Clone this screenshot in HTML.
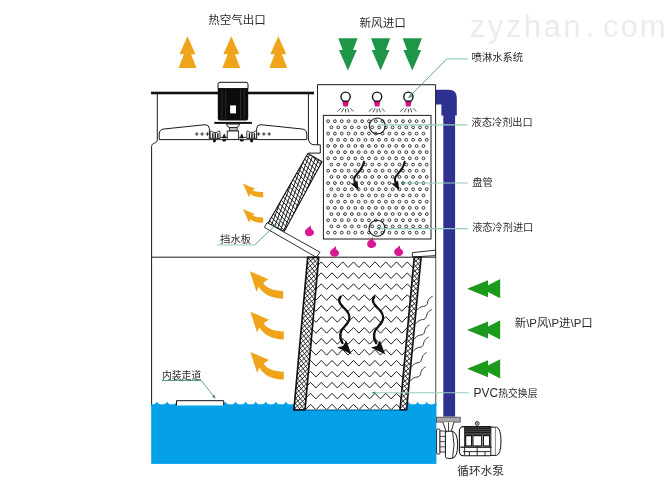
<!DOCTYPE html>
<html lang="zh"><head><meta charset="utf-8"><title>冷却塔示意图</title>
<style>
html,body{margin:0;padding:0;background:#fff;}
body{width:672px;height:487px;overflow:hidden;font-family:"Liberation Sans","Noto Sans CJK SC",sans-serif;}
svg{display:block;will-change:transform;}
</style></head><body>
<svg width="672" height="487" viewBox="0 0 672 487"><defs>
<clipPath id="pvcClip"><polygon points="318.7,257.4 414.2,257.4 400,409.6 305,409.6"/></clipPath>
</defs>
<rect x="0" y="0" width="672" height="487" fill="#ffffff"/>
<text x="469.8" y="37.2" font-family="'Liberation Sans','Noto Sans CJK SC',sans-serif" font-size="31" fill="#ececee" letter-spacing="2.5">zyzhan</text>
<text x="585.4" y="37.2" font-family="'Liberation Sans','Noto Sans CJK SC',sans-serif" font-size="31" fill="#ececee" >.</text>
<text x="603" y="37.2" font-family="'Liberation Sans','Noto Sans CJK SC',sans-serif" font-size="31" fill="#ececee" letter-spacing="2.0">com</text>
<text x="208.3" y="23.6" font-family="'Liberation Sans','Noto Sans CJK SC',sans-serif" font-size="11.5" fill="#2a2a2a" >热空气出口</text>
<text x="359.5" y="27.4" font-family="'Liberation Sans','Noto Sans CJK SC',sans-serif" font-size="11.6" fill="#2a2a2a" >新风进口</text>
<polygon points="187.5,36.2 195.5,54.3 191.1,54.3 196.5,68 178.5,68 183.9,54.3 179.5,54.3" fill="#f0a41c"/>
<polygon points="231.3,36.2 239.3,54.3 234.9,54.3 240.3,68 222.3,68 227.70000000000002,54.3 223.3,54.3" fill="#f0a41c"/>
<polygon points="278.3,36.2 286.3,54.3 281.90000000000003,54.3 287.3,68 269.3,68 274.7,54.3 270.3,54.3" fill="#f0a41c"/>
<polygon points="338.29999999999995,38.2 357.5,38.2 353.09999999999997,50 356.79999999999995,50 347.9,70.6 339.0,50 342.7,50" fill="#1e9648"/>
<polygon points="371.0,38.2 390.20000000000005,38.2 385.8,50 389.5,50 380.6,70.6 371.70000000000005,50 375.40000000000003,50" fill="#1e9648"/>
<polygon points="402.7,38.2 421.90000000000003,38.2 417.5,50 421.2,50 412.3,70.6 403.40000000000003,50 407.1,50" fill="#1e9648"/>
<rect x="151" y="91.7" width="163" height="2.6" fill="#111"/>
<path d="M157.3 94 V139.6 C157.3 144.4 151.6 141.8 151.6 146.6 V405" fill="none" stroke="#1a1a1a" stroke-width="1"/>
<path d="M308.4 94 V138 Q308.4 144.8 315 144.8 H320.3 V153.1 H308.4" fill="none" stroke="#1a1a1a" stroke-width="1"/>
<path d="M159.2 139.6 V134 Q159.4 129.4 164 129 L205 124.7 Q209 124.6 209.4 128.5 V139.6 Z" fill="#fff" stroke="#1a1a1a" stroke-width="1"/>
<path d="M306.8 139.6 V134 Q306.6 129.4 302 129 L261 124.7 Q257 124.6 256.6 128.5 V139.6 Z" fill="#fff" stroke="#1a1a1a" stroke-width="1"/>
<path d="M209.4 137.4 H256.6 M209.4 139.6 H256.6" stroke="#1a1a1a" stroke-width="0.9" fill="none"/>
<path d="M210.2 138.4 V132.2 Q210.2 130.9 211.5 130.9 Q212.2 132.6 215.1 132.6 Q218.0 132.6 218.7 130.9 Q220.0 130.9 220.0 132.2 V138.4 Z" fill="#fff" stroke="#1a1a1a" stroke-width="0.9"/>
<rect x="212.1" y="133.2" width="1.4" height="5" fill="#1a1a1a"/>
<rect x="214.6" y="133.2" width="1.4" height="5" fill="#1a1a1a"/>
<rect x="217.1" y="133.2" width="1.4" height="5" fill="#1a1a1a"/>
<path d="M246.8 138.4 V132.2 Q246.8 130.9 248.10000000000002 130.9 Q248.8 132.6 251.70000000000002 132.6 Q254.60000000000002 132.6 255.3 130.9 Q256.6 130.9 256.6 132.2 V138.4 Z" fill="#fff" stroke="#1a1a1a" stroke-width="0.9"/>
<rect x="248.7" y="133.2" width="1.4" height="5" fill="#1a1a1a"/>
<rect x="251.2" y="133.2" width="1.4" height="5" fill="#1a1a1a"/>
<rect x="253.7" y="133.2" width="1.4" height="5" fill="#1a1a1a"/>
<path d="M222.29999999999998 138.2 L223.29999999999998 135 L224.2 133.6 L225.1 135 L226.1 138.2 Z" fill="#111"/>
<ellipse cx="224.2" cy="140.4" rx="2" ry="1.1" fill="#111"/>
<path d="M239.9 138.2 L240.9 135 L241.8 133.6 L242.70000000000002 135 L243.70000000000002 138.2 Z" fill="#111"/>
<ellipse cx="241.8" cy="140.4" rx="2" ry="1.1" fill="#111"/>
<ellipse cx="214.4" cy="140.8" rx="1.5" ry="1.7" fill="#111"/>
<ellipse cx="251.6" cy="140.8" rx="1.5" ry="1.7" fill="#111"/>
<path d="M195.0 134 H198.60000000000002 M196.8 132.2 V135.8" stroke="#111" stroke-width="0.8"/>
<path d="M200.29999999999998 134 H203.9 M202.1 132.2 V135.8" stroke="#111" stroke-width="0.8"/>
<path d="M205.6 134 H209.20000000000002 M207.4 132.2 V135.8" stroke="#111" stroke-width="0.8"/>
<path d="M256.8 134 H260.40000000000003 M258.6 132.2 V135.8" stroke="#111" stroke-width="0.8"/>
<path d="M262.09999999999997 134 H265.7 M263.9 132.2 V135.8" stroke="#111" stroke-width="0.8"/>
<path d="M267.4 134 H271.0 M269.2 132.2 V135.8" stroke="#111" stroke-width="0.8"/>
<path d="M218 88.6 V84.3 Q218 82.3 220 82.3 H246 Q248 82.3 248 84.3 V88.6 Z" fill="#fff" stroke="#111" stroke-width="1"/>
<path d="M217.8 88.4 H248.2 V118.4 Q248.2 120.4 246.2 120.4 H219.8 Q217.8 120.4 217.8 118.4 Z" fill="#0c0c0c"/>
<rect x="221.60" y="89.4" width="0.8" height="30" fill="#333"/>
<rect x="225.40" y="89.4" width="0.8" height="30" fill="#333"/>
<rect x="240.00" y="89.4" width="0.8" height="30" fill="#333"/>
<rect x="243.80" y="89.4" width="0.8" height="30" fill="#333"/>
<rect x="230.1" y="105.4" width="5.9" height="8" fill="#fff"/>
<rect x="214.3" y="121.9" width="37.6" height="2" fill="#111"/>
<path d="M226.4 124.1 Q227 127.6 230.2 127.6 H235.8 Q239 127.6 239.6 124.1 Z" fill="#fff" stroke="#1a1a1a" stroke-width="0.9"/>
<rect x="229.6" y="127.6" width="7.6" height="3.4" fill="#bbb" stroke="#1a1a1a" stroke-width="0.8"/>
<rect x="227.2" y="131" width="11.4" height="8.4" fill="#fff" stroke="#1a1a1a" stroke-width="0.9"/>
<path d="M317.5 144.8 V84.7 H435.6 V257" fill="none" stroke="#1a1a1a" stroke-width="1"/>
<path d="M435.7 257 V406" fill="none" stroke="#6a6a6a" stroke-width="1.2"/>
<rect x="323.4" y="115.4" width="107.6" height="123.6" fill="#fff" stroke="#1a1a1a" stroke-width="1"/>
<g fill="#fff" stroke="#1a1a1a" stroke-width="0.85"><circle cx="328.10" cy="121.20" r="1.42"/><circle cx="334.91" cy="121.20" r="1.42"/><circle cx="341.72" cy="121.20" r="1.42"/><circle cx="348.53" cy="121.20" r="1.42"/><circle cx="355.34" cy="121.20" r="1.42"/><circle cx="362.15" cy="121.20" r="1.42"/><circle cx="368.96" cy="121.20" r="1.42"/><circle cx="375.77" cy="121.20" r="1.42"/><circle cx="382.58" cy="121.20" r="1.42"/><circle cx="389.39" cy="121.20" r="1.42"/><circle cx="396.20" cy="121.20" r="1.42"/><circle cx="403.01" cy="121.20" r="1.42"/><circle cx="409.82" cy="121.20" r="1.42"/><circle cx="416.63" cy="121.20" r="1.42"/><circle cx="423.44" cy="121.20" r="1.42"/><circle cx="331.40" cy="127.39" r="1.42"/><circle cx="338.21" cy="127.39" r="1.42"/><circle cx="345.02" cy="127.39" r="1.42"/><circle cx="351.83" cy="127.39" r="1.42"/><circle cx="358.64" cy="127.39" r="1.42"/><circle cx="365.45" cy="127.39" r="1.42"/><circle cx="372.26" cy="127.39" r="1.42"/><circle cx="379.07" cy="127.39" r="1.42"/><circle cx="385.88" cy="127.39" r="1.42"/><circle cx="392.69" cy="127.39" r="1.42"/><circle cx="399.50" cy="127.39" r="1.42"/><circle cx="406.31" cy="127.39" r="1.42"/><circle cx="413.12" cy="127.39" r="1.42"/><circle cx="419.93" cy="127.39" r="1.42"/><circle cx="426.74" cy="127.39" r="1.42"/><circle cx="328.10" cy="133.58" r="1.42"/><circle cx="334.91" cy="133.58" r="1.42"/><circle cx="341.72" cy="133.58" r="1.42"/><circle cx="348.53" cy="133.58" r="1.42"/><circle cx="355.34" cy="133.58" r="1.42"/><circle cx="362.15" cy="133.58" r="1.42"/><circle cx="368.96" cy="133.58" r="1.42"/><circle cx="375.77" cy="133.58" r="1.42"/><circle cx="382.58" cy="133.58" r="1.42"/><circle cx="389.39" cy="133.58" r="1.42"/><circle cx="396.20" cy="133.58" r="1.42"/><circle cx="403.01" cy="133.58" r="1.42"/><circle cx="409.82" cy="133.58" r="1.42"/><circle cx="416.63" cy="133.58" r="1.42"/><circle cx="423.44" cy="133.58" r="1.42"/><circle cx="331.40" cy="139.77" r="1.42"/><circle cx="338.21" cy="139.77" r="1.42"/><circle cx="345.02" cy="139.77" r="1.42"/><circle cx="351.83" cy="139.77" r="1.42"/><circle cx="358.64" cy="139.77" r="1.42"/><circle cx="365.45" cy="139.77" r="1.42"/><circle cx="372.26" cy="139.77" r="1.42"/><circle cx="379.07" cy="139.77" r="1.42"/><circle cx="385.88" cy="139.77" r="1.42"/><circle cx="392.69" cy="139.77" r="1.42"/><circle cx="399.50" cy="139.77" r="1.42"/><circle cx="406.31" cy="139.77" r="1.42"/><circle cx="413.12" cy="139.77" r="1.42"/><circle cx="419.93" cy="139.77" r="1.42"/><circle cx="426.74" cy="139.77" r="1.42"/><circle cx="328.10" cy="145.96" r="1.42"/><circle cx="334.91" cy="145.96" r="1.42"/><circle cx="341.72" cy="145.96" r="1.42"/><circle cx="348.53" cy="145.96" r="1.42"/><circle cx="355.34" cy="145.96" r="1.42"/><circle cx="362.15" cy="145.96" r="1.42"/><circle cx="368.96" cy="145.96" r="1.42"/><circle cx="375.77" cy="145.96" r="1.42"/><circle cx="382.58" cy="145.96" r="1.42"/><circle cx="389.39" cy="145.96" r="1.42"/><circle cx="396.20" cy="145.96" r="1.42"/><circle cx="403.01" cy="145.96" r="1.42"/><circle cx="409.82" cy="145.96" r="1.42"/><circle cx="416.63" cy="145.96" r="1.42"/><circle cx="423.44" cy="145.96" r="1.42"/><circle cx="331.40" cy="152.15" r="1.42"/><circle cx="338.21" cy="152.15" r="1.42"/><circle cx="345.02" cy="152.15" r="1.42"/><circle cx="351.83" cy="152.15" r="1.42"/><circle cx="358.64" cy="152.15" r="1.42"/><circle cx="365.45" cy="152.15" r="1.42"/><circle cx="372.26" cy="152.15" r="1.42"/><circle cx="379.07" cy="152.15" r="1.42"/><circle cx="385.88" cy="152.15" r="1.42"/><circle cx="392.69" cy="152.15" r="1.42"/><circle cx="399.50" cy="152.15" r="1.42"/><circle cx="406.31" cy="152.15" r="1.42"/><circle cx="413.12" cy="152.15" r="1.42"/><circle cx="419.93" cy="152.15" r="1.42"/><circle cx="426.74" cy="152.15" r="1.42"/><circle cx="328.10" cy="158.34" r="1.42"/><circle cx="334.91" cy="158.34" r="1.42"/><circle cx="341.72" cy="158.34" r="1.42"/><circle cx="348.53" cy="158.34" r="1.42"/><circle cx="355.34" cy="158.34" r="1.42"/><circle cx="362.15" cy="158.34" r="1.42"/><circle cx="368.96" cy="158.34" r="1.42"/><circle cx="375.77" cy="158.34" r="1.42"/><circle cx="382.58" cy="158.34" r="1.42"/><circle cx="389.39" cy="158.34" r="1.42"/><circle cx="396.20" cy="158.34" r="1.42"/><circle cx="403.01" cy="158.34" r="1.42"/><circle cx="409.82" cy="158.34" r="1.42"/><circle cx="416.63" cy="158.34" r="1.42"/><circle cx="423.44" cy="158.34" r="1.42"/><circle cx="331.40" cy="164.53" r="1.42"/><circle cx="338.21" cy="164.53" r="1.42"/><circle cx="345.02" cy="164.53" r="1.42"/><circle cx="351.83" cy="164.53" r="1.42"/><circle cx="358.64" cy="164.53" r="1.42"/><circle cx="365.45" cy="164.53" r="1.42"/><circle cx="372.26" cy="164.53" r="1.42"/><circle cx="379.07" cy="164.53" r="1.42"/><circle cx="385.88" cy="164.53" r="1.42"/><circle cx="392.69" cy="164.53" r="1.42"/><circle cx="399.50" cy="164.53" r="1.42"/><circle cx="406.31" cy="164.53" r="1.42"/><circle cx="413.12" cy="164.53" r="1.42"/><circle cx="419.93" cy="164.53" r="1.42"/><circle cx="426.74" cy="164.53" r="1.42"/><circle cx="328.10" cy="170.72" r="1.42"/><circle cx="334.91" cy="170.72" r="1.42"/><circle cx="341.72" cy="170.72" r="1.42"/><circle cx="348.53" cy="170.72" r="1.42"/><circle cx="355.34" cy="170.72" r="1.42"/><circle cx="362.15" cy="170.72" r="1.42"/><circle cx="368.96" cy="170.72" r="1.42"/><circle cx="375.77" cy="170.72" r="1.42"/><circle cx="382.58" cy="170.72" r="1.42"/><circle cx="389.39" cy="170.72" r="1.42"/><circle cx="396.20" cy="170.72" r="1.42"/><circle cx="403.01" cy="170.72" r="1.42"/><circle cx="409.82" cy="170.72" r="1.42"/><circle cx="416.63" cy="170.72" r="1.42"/><circle cx="423.44" cy="170.72" r="1.42"/><circle cx="331.40" cy="176.91" r="1.42"/><circle cx="338.21" cy="176.91" r="1.42"/><circle cx="345.02" cy="176.91" r="1.42"/><circle cx="351.83" cy="176.91" r="1.42"/><circle cx="358.64" cy="176.91" r="1.42"/><circle cx="365.45" cy="176.91" r="1.42"/><circle cx="372.26" cy="176.91" r="1.42"/><circle cx="379.07" cy="176.91" r="1.42"/><circle cx="385.88" cy="176.91" r="1.42"/><circle cx="392.69" cy="176.91" r="1.42"/><circle cx="399.50" cy="176.91" r="1.42"/><circle cx="406.31" cy="176.91" r="1.42"/><circle cx="413.12" cy="176.91" r="1.42"/><circle cx="419.93" cy="176.91" r="1.42"/><circle cx="426.74" cy="176.91" r="1.42"/><circle cx="328.10" cy="183.10" r="1.42"/><circle cx="334.91" cy="183.10" r="1.42"/><circle cx="341.72" cy="183.10" r="1.42"/><circle cx="348.53" cy="183.10" r="1.42"/><circle cx="355.34" cy="183.10" r="1.42"/><circle cx="362.15" cy="183.10" r="1.42"/><circle cx="368.96" cy="183.10" r="1.42"/><circle cx="375.77" cy="183.10" r="1.42"/><circle cx="382.58" cy="183.10" r="1.42"/><circle cx="389.39" cy="183.10" r="1.42"/><circle cx="396.20" cy="183.10" r="1.42"/><circle cx="403.01" cy="183.10" r="1.42"/><circle cx="409.82" cy="183.10" r="1.42"/><circle cx="416.63" cy="183.10" r="1.42"/><circle cx="423.44" cy="183.10" r="1.42"/><circle cx="331.40" cy="189.29" r="1.42"/><circle cx="338.21" cy="189.29" r="1.42"/><circle cx="345.02" cy="189.29" r="1.42"/><circle cx="351.83" cy="189.29" r="1.42"/><circle cx="358.64" cy="189.29" r="1.42"/><circle cx="365.45" cy="189.29" r="1.42"/><circle cx="372.26" cy="189.29" r="1.42"/><circle cx="379.07" cy="189.29" r="1.42"/><circle cx="385.88" cy="189.29" r="1.42"/><circle cx="392.69" cy="189.29" r="1.42"/><circle cx="399.50" cy="189.29" r="1.42"/><circle cx="406.31" cy="189.29" r="1.42"/><circle cx="413.12" cy="189.29" r="1.42"/><circle cx="419.93" cy="189.29" r="1.42"/><circle cx="426.74" cy="189.29" r="1.42"/><circle cx="328.10" cy="195.48" r="1.42"/><circle cx="334.91" cy="195.48" r="1.42"/><circle cx="341.72" cy="195.48" r="1.42"/><circle cx="348.53" cy="195.48" r="1.42"/><circle cx="355.34" cy="195.48" r="1.42"/><circle cx="362.15" cy="195.48" r="1.42"/><circle cx="368.96" cy="195.48" r="1.42"/><circle cx="375.77" cy="195.48" r="1.42"/><circle cx="382.58" cy="195.48" r="1.42"/><circle cx="389.39" cy="195.48" r="1.42"/><circle cx="396.20" cy="195.48" r="1.42"/><circle cx="403.01" cy="195.48" r="1.42"/><circle cx="409.82" cy="195.48" r="1.42"/><circle cx="416.63" cy="195.48" r="1.42"/><circle cx="423.44" cy="195.48" r="1.42"/><circle cx="331.40" cy="201.67" r="1.42"/><circle cx="338.21" cy="201.67" r="1.42"/><circle cx="345.02" cy="201.67" r="1.42"/><circle cx="351.83" cy="201.67" r="1.42"/><circle cx="358.64" cy="201.67" r="1.42"/><circle cx="365.45" cy="201.67" r="1.42"/><circle cx="372.26" cy="201.67" r="1.42"/><circle cx="379.07" cy="201.67" r="1.42"/><circle cx="385.88" cy="201.67" r="1.42"/><circle cx="392.69" cy="201.67" r="1.42"/><circle cx="399.50" cy="201.67" r="1.42"/><circle cx="406.31" cy="201.67" r="1.42"/><circle cx="413.12" cy="201.67" r="1.42"/><circle cx="419.93" cy="201.67" r="1.42"/><circle cx="426.74" cy="201.67" r="1.42"/><circle cx="328.10" cy="207.86" r="1.42"/><circle cx="334.91" cy="207.86" r="1.42"/><circle cx="341.72" cy="207.86" r="1.42"/><circle cx="348.53" cy="207.86" r="1.42"/><circle cx="355.34" cy="207.86" r="1.42"/><circle cx="362.15" cy="207.86" r="1.42"/><circle cx="368.96" cy="207.86" r="1.42"/><circle cx="375.77" cy="207.86" r="1.42"/><circle cx="382.58" cy="207.86" r="1.42"/><circle cx="389.39" cy="207.86" r="1.42"/><circle cx="396.20" cy="207.86" r="1.42"/><circle cx="403.01" cy="207.86" r="1.42"/><circle cx="409.82" cy="207.86" r="1.42"/><circle cx="416.63" cy="207.86" r="1.42"/><circle cx="423.44" cy="207.86" r="1.42"/><circle cx="331.40" cy="214.05" r="1.42"/><circle cx="338.21" cy="214.05" r="1.42"/><circle cx="345.02" cy="214.05" r="1.42"/><circle cx="351.83" cy="214.05" r="1.42"/><circle cx="358.64" cy="214.05" r="1.42"/><circle cx="365.45" cy="214.05" r="1.42"/><circle cx="372.26" cy="214.05" r="1.42"/><circle cx="379.07" cy="214.05" r="1.42"/><circle cx="385.88" cy="214.05" r="1.42"/><circle cx="392.69" cy="214.05" r="1.42"/><circle cx="399.50" cy="214.05" r="1.42"/><circle cx="406.31" cy="214.05" r="1.42"/><circle cx="413.12" cy="214.05" r="1.42"/><circle cx="419.93" cy="214.05" r="1.42"/><circle cx="426.74" cy="214.05" r="1.42"/><circle cx="328.10" cy="220.24" r="1.42"/><circle cx="334.91" cy="220.24" r="1.42"/><circle cx="341.72" cy="220.24" r="1.42"/><circle cx="348.53" cy="220.24" r="1.42"/><circle cx="355.34" cy="220.24" r="1.42"/><circle cx="362.15" cy="220.24" r="1.42"/><circle cx="368.96" cy="220.24" r="1.42"/><circle cx="375.77" cy="220.24" r="1.42"/><circle cx="382.58" cy="220.24" r="1.42"/><circle cx="389.39" cy="220.24" r="1.42"/><circle cx="396.20" cy="220.24" r="1.42"/><circle cx="403.01" cy="220.24" r="1.42"/><circle cx="409.82" cy="220.24" r="1.42"/><circle cx="416.63" cy="220.24" r="1.42"/><circle cx="423.44" cy="220.24" r="1.42"/><circle cx="331.40" cy="226.43" r="1.42"/><circle cx="338.21" cy="226.43" r="1.42"/><circle cx="345.02" cy="226.43" r="1.42"/><circle cx="351.83" cy="226.43" r="1.42"/><circle cx="358.64" cy="226.43" r="1.42"/><circle cx="365.45" cy="226.43" r="1.42"/><circle cx="372.26" cy="226.43" r="1.42"/><circle cx="379.07" cy="226.43" r="1.42"/><circle cx="385.88" cy="226.43" r="1.42"/><circle cx="392.69" cy="226.43" r="1.42"/><circle cx="399.50" cy="226.43" r="1.42"/><circle cx="406.31" cy="226.43" r="1.42"/><circle cx="413.12" cy="226.43" r="1.42"/><circle cx="419.93" cy="226.43" r="1.42"/><circle cx="426.74" cy="226.43" r="1.42"/><circle cx="328.10" cy="232.62" r="1.42"/><circle cx="334.91" cy="232.62" r="1.42"/><circle cx="341.72" cy="232.62" r="1.42"/><circle cx="348.53" cy="232.62" r="1.42"/><circle cx="355.34" cy="232.62" r="1.42"/><circle cx="362.15" cy="232.62" r="1.42"/><circle cx="368.96" cy="232.62" r="1.42"/><circle cx="375.77" cy="232.62" r="1.42"/><circle cx="382.58" cy="232.62" r="1.42"/><circle cx="389.39" cy="232.62" r="1.42"/><circle cx="396.20" cy="232.62" r="1.42"/><circle cx="403.01" cy="232.62" r="1.42"/><circle cx="409.82" cy="232.62" r="1.42"/><circle cx="416.63" cy="232.62" r="1.42"/><circle cx="423.44" cy="232.62" r="1.42"/></g>
<polygon points="342.3,101 348.90000000000003,101 347.8,106.6 343.40000000000003,106.6" fill="#d4127a"/>
<circle cx="345.6" cy="96.7" r="4.6" fill="#fff" stroke="#111" stroke-width="1.4"/>
<path d="M341.0 108.3 L337.40000000000003 111.5 M343.6 108.3 L341.40000000000003 112.3 M345.6 108.8 V112.5 M347.6 108.3 L349.0 112.3 M350.3 108.3 L353.40000000000003 111.5" stroke="#222" stroke-width="0.8" fill="none"/>
<polygon points="373.8,101 380.40000000000003,101 379.3,106.6 374.90000000000003,106.6" fill="#d4127a"/>
<circle cx="377.1" cy="96.7" r="4.6" fill="#fff" stroke="#111" stroke-width="1.4"/>
<path d="M372.5 108.3 L368.90000000000003 111.5 M375.1 108.3 L372.90000000000003 112.3 M377.1 108.8 V112.5 M379.1 108.3 L380.5 112.3 M381.8 108.3 L384.90000000000003 111.5" stroke="#222" stroke-width="0.8" fill="none"/>
<polygon points="405.09999999999997,101 411.7,101 410.59999999999997,106.6 406.2,106.6" fill="#d4127a"/>
<circle cx="408.4" cy="96.7" r="4.6" fill="#fff" stroke="#111" stroke-width="1.4"/>
<path d="M403.79999999999995 108.3 L400.2 111.5 M406.4 108.3 L404.2 112.3 M408.4 108.8 V112.5 M410.4 108.3 L411.79999999999995 112.3 M413.09999999999997 108.3 L416.2 111.5" stroke="#222" stroke-width="0.8" fill="none"/>
<circle cx="377.3" cy="126" r="8" fill="none" stroke="#1a1a1a" stroke-width="1.1"/>
<circle cx="377" cy="228.2" r="8" fill="none" stroke="#1a1a1a" stroke-width="1.1"/>
<path d="M364 161.7 C362.5 170 356 174 354.4 178 C353.6 181 355.5 184 356.6 186.5" fill="none" stroke="#111" stroke-width="2" stroke-linecap="round"/>
<polygon points="358.6,190.4 350.4,183.2 354.6,183.4 357.4,180.6" fill="#111"/>
<path d="M404.7 161.7 C403.2 170 396.7 174 395.09999999999997 178 C394.3 181 396.2 184 397.3 186.5" fill="none" stroke="#111" stroke-width="2" stroke-linecap="round"/>
<polygon points="399.3,190.4 391.09999999999997,183.2 395.3,183.4 398.09999999999997,180.6" fill="#111"/>
<clipPath id="bafClip"><polygon points="307.9,153.6 322,161.8 284.3,231.2 267.9,223.5"/></clipPath>
<polygon points="307.9,153.6 322,161.8 284.3,231.2 267.9,223.5" fill="#fff"/>
<path d="M229.67 220.15 L265.00 128.10 M232.84 221.37 L268.18 129.32 M236.02 222.58 L271.35 130.54 M239.19 223.80 L274.53 131.75 M242.37 225.02 L277.70 132.97 M245.54 226.24 L280.88 134.19 M248.72 227.46 L284.05 135.41 M251.89 228.68 L287.22 136.63 M255.06 229.89 L290.40 137.85 M258.24 231.11 L293.57 139.07 M261.41 232.33 L296.75 140.28 M264.59 233.55 L299.92 141.50 M267.76 234.77 L303.09 142.72 M270.93 235.99 L306.27 143.94 M274.11 237.21 L309.44 145.16 M277.28 238.42 L312.62 146.38 M280.46 239.64 L315.79 147.59 M283.63 240.86 L318.97 148.81 M286.81 242.08 L322.14 150.03 M289.98 243.30 L325.31 151.25 M293.15 244.52 L328.49 152.47 M296.33 245.73 L331.66 153.69 M299.50 246.95 L334.84 154.91 M302.68 248.17 L338.01 156.12 M305.85 249.39 L341.18 157.34 M309.02 250.61 L344.36 158.56 M312.20 251.83 L347.53 159.78 M315.37 253.05 L350.71 161.00 M318.55 254.26 L353.88 162.22 M321.72 255.48 L357.06 163.43 M324.90 256.70 L360.23 164.65" stroke="#111" stroke-width="0.95" fill="none" clip-path="url(#bafClip)"/>
<path d="M295.02 122.61 L364.74 192.33 M292.33 125.30 L362.05 195.02 M289.65 127.98 L359.37 197.70 M286.96 130.67 L356.68 200.39 M284.27 133.36 L353.99 203.08 M281.59 136.04 L351.31 205.76 M278.90 138.73 L348.62 208.45 M276.21 141.42 L345.93 211.14 M273.53 144.11 L343.24 213.82 M270.84 146.79 L340.56 216.51 M268.15 149.48 L337.87 219.20 M265.46 152.17 L335.18 221.89 M262.78 154.85 L332.50 224.57 M260.09 157.54 L329.81 227.26 M257.40 160.23 L327.12 229.95 M254.72 162.91 L324.44 232.63 M252.03 165.60 L321.75 235.32 M249.34 168.29 L319.06 238.01 M246.66 170.98 L316.37 240.69 M243.97 173.66 L313.69 243.38 M241.28 176.35 L311.00 246.07 M238.59 179.04 L308.31 248.76 M235.91 181.72 L305.63 251.44 M233.22 184.41 L302.94 254.13 M230.53 187.10 L300.25 256.82 M227.85 189.78 L297.57 259.50 M225.16 192.47 L294.88 262.19" stroke="#111" stroke-width="0.95" fill="none" clip-path="url(#bafClip)"/>
<polygon points="307.9,153.6 322,161.8 284.3,231.2 267.9,223.5" fill="none" stroke="#111" stroke-width="1.1"/>
<polygon points="267,222.6 320,252.2 316.2,257.2 264.4,227.4" fill="#fff" stroke="#1a1a1a" stroke-width="0.9"/>
<polygon points="412.4,252.6 435.6,250.2 435.6,255.6 412.4,257" fill="#fff" stroke="#1a1a1a" stroke-width="0.9"/>
<rect x="151.2" y="404.6" width="285.2" height="59.299999999999955" fill="#04a0e8"/>
<clipPath id="c1512"><rect x="151.2" y="395" width="25.200000000000017" height="15"/></clipPath>
<path d="M146.80 405.6 L146.80 401.4 A5.58 5.58 0 0 0 156.90 401.40 A5.58 5.58 0 0 0 167.00 401.40 A5.58 5.58 0 0 0 177.10 401.40 L177.10 405.6 Z" fill="#04a0e8" clip-path="url(#c1512)"/>
<clipPath id="c2236"><rect x="223.6" y="395" width="71.4" height="15"/></clipPath>
<path d="M215.30 405.6 L215.30 401.4 A5.58 5.58 0 0 0 225.40 401.40 A5.58 5.58 0 0 0 235.50 401.40 A5.58 5.58 0 0 0 245.60 401.40 A5.58 5.58 0 0 0 255.70 401.40 A5.58 5.58 0 0 0 265.80 401.40 A5.58 5.58 0 0 0 275.90 401.40 A5.58 5.58 0 0 0 286.00 401.40 A5.58 5.58 0 0 0 296.10 401.40 L296.10 405.6 Z" fill="#04a0e8" clip-path="url(#c2236)"/>
<clipPath id="c4062"><rect x="406.2" y="395" width="30.19999999999999" height="15"/></clipPath>
<path d="M399.40 405.6 L399.40 401.4 A4.83 4.83 0 0 0 408.50 401.40 A4.83 4.83 0 0 0 417.60 401.40 A4.83 4.83 0 0 0 426.70 401.40 A4.83 4.83 0 0 0 435.80 401.40 A4.83 4.83 0 0 0 444.90 401.40 L444.90 405.6 Z" fill="#04a0e8" clip-path="url(#c4062)"/>
<path d="M176.5 405.4 V400.7 H223.7 V405.4" fill="#fff" stroke="#111" stroke-width="1"/>
<polygon points="318.7,257.4 414.2,257.4 400,409.8 305,409.8" fill="#fff"/>
<g clip-path="url(#pvcClip)"><path d="M289.00 261.90 L294.38 267.50 L299.75 261.90 L305.12 267.50 L310.50 261.90 L315.88 267.50 L321.25 261.90 L326.62 267.50 L332.00 261.90 L337.38 267.50 L342.75 261.90 L348.12 267.50 L353.50 261.90 L358.88 267.50 L364.25 261.90 L369.62 267.50 L375.00 261.90 L380.38 267.50 L385.75 261.90 L391.12 267.50 L396.50 261.90 L401.88 267.50 L407.25 261.90 L412.62 267.50 L418.00 261.90 L423.38 267.50 L428.75 261.90 M289.00 272.85 L294.38 278.45 L299.75 272.85 L305.12 278.45 L310.50 272.85 L315.88 278.45 L321.25 272.85 L326.62 278.45 L332.00 272.85 L337.38 278.45 L342.75 272.85 L348.12 278.45 L353.50 272.85 L358.88 278.45 L364.25 272.85 L369.62 278.45 L375.00 272.85 L380.38 278.45 L385.75 272.85 L391.12 278.45 L396.50 272.85 L401.88 278.45 L407.25 272.85 L412.62 278.45 L418.00 272.85 L423.38 278.45 L428.75 272.85 M289.00 283.80 L294.38 289.40 L299.75 283.80 L305.12 289.40 L310.50 283.80 L315.88 289.40 L321.25 283.80 L326.62 289.40 L332.00 283.80 L337.38 289.40 L342.75 283.80 L348.12 289.40 L353.50 283.80 L358.88 289.40 L364.25 283.80 L369.62 289.40 L375.00 283.80 L380.38 289.40 L385.75 283.80 L391.12 289.40 L396.50 283.80 L401.88 289.40 L407.25 283.80 L412.62 289.40 L418.00 283.80 L423.38 289.40 L428.75 283.80 M289.00 294.75 L294.38 300.35 L299.75 294.75 L305.12 300.35 L310.50 294.75 L315.88 300.35 L321.25 294.75 L326.62 300.35 L332.00 294.75 L337.38 300.35 L342.75 294.75 L348.12 300.35 L353.50 294.75 L358.88 300.35 L364.25 294.75 L369.62 300.35 L375.00 294.75 L380.38 300.35 L385.75 294.75 L391.12 300.35 L396.50 294.75 L401.88 300.35 L407.25 294.75 L412.62 300.35 L418.00 294.75 L423.38 300.35 L428.75 294.75 M289.00 305.70 L294.38 311.30 L299.75 305.70 L305.12 311.30 L310.50 305.70 L315.88 311.30 L321.25 305.70 L326.62 311.30 L332.00 305.70 L337.38 311.30 L342.75 305.70 L348.12 311.30 L353.50 305.70 L358.88 311.30 L364.25 305.70 L369.62 311.30 L375.00 305.70 L380.38 311.30 L385.75 305.70 L391.12 311.30 L396.50 305.70 L401.88 311.30 L407.25 305.70 L412.62 311.30 L418.00 305.70 L423.38 311.30 L428.75 305.70 M289.00 316.65 L294.38 322.25 L299.75 316.65 L305.12 322.25 L310.50 316.65 L315.88 322.25 L321.25 316.65 L326.62 322.25 L332.00 316.65 L337.38 322.25 L342.75 316.65 L348.12 322.25 L353.50 316.65 L358.88 322.25 L364.25 316.65 L369.62 322.25 L375.00 316.65 L380.38 322.25 L385.75 316.65 L391.12 322.25 L396.50 316.65 L401.88 322.25 L407.25 316.65 L412.62 322.25 L418.00 316.65 L423.38 322.25 L428.75 316.65 M289.00 327.60 L294.38 333.20 L299.75 327.60 L305.12 333.20 L310.50 327.60 L315.88 333.20 L321.25 327.60 L326.62 333.20 L332.00 327.60 L337.38 333.20 L342.75 327.60 L348.12 333.20 L353.50 327.60 L358.88 333.20 L364.25 327.60 L369.62 333.20 L375.00 327.60 L380.38 333.20 L385.75 327.60 L391.12 333.20 L396.50 327.60 L401.88 333.20 L407.25 327.60 L412.62 333.20 L418.00 327.60 L423.38 333.20 L428.75 327.60 M289.00 338.55 L294.38 344.15 L299.75 338.55 L305.12 344.15 L310.50 338.55 L315.88 344.15 L321.25 338.55 L326.62 344.15 L332.00 338.55 L337.38 344.15 L342.75 338.55 L348.12 344.15 L353.50 338.55 L358.88 344.15 L364.25 338.55 L369.62 344.15 L375.00 338.55 L380.38 344.15 L385.75 338.55 L391.12 344.15 L396.50 338.55 L401.88 344.15 L407.25 338.55 L412.62 344.15 L418.00 338.55 L423.38 344.15 L428.75 338.55 M289.00 349.50 L294.38 355.10 L299.75 349.50 L305.12 355.10 L310.50 349.50 L315.88 355.10 L321.25 349.50 L326.62 355.10 L332.00 349.50 L337.38 355.10 L342.75 349.50 L348.12 355.10 L353.50 349.50 L358.88 355.10 L364.25 349.50 L369.62 355.10 L375.00 349.50 L380.38 355.10 L385.75 349.50 L391.12 355.10 L396.50 349.50 L401.88 355.10 L407.25 349.50 L412.62 355.10 L418.00 349.50 L423.38 355.10 L428.75 349.50 M289.00 360.45 L294.38 366.05 L299.75 360.45 L305.12 366.05 L310.50 360.45 L315.88 366.05 L321.25 360.45 L326.62 366.05 L332.00 360.45 L337.38 366.05 L342.75 360.45 L348.12 366.05 L353.50 360.45 L358.88 366.05 L364.25 360.45 L369.62 366.05 L375.00 360.45 L380.38 366.05 L385.75 360.45 L391.12 366.05 L396.50 360.45 L401.88 366.05 L407.25 360.45 L412.62 366.05 L418.00 360.45 L423.38 366.05 L428.75 360.45 M289.00 371.40 L294.38 377.00 L299.75 371.40 L305.12 377.00 L310.50 371.40 L315.88 377.00 L321.25 371.40 L326.62 377.00 L332.00 371.40 L337.38 377.00 L342.75 371.40 L348.12 377.00 L353.50 371.40 L358.88 377.00 L364.25 371.40 L369.62 377.00 L375.00 371.40 L380.38 377.00 L385.75 371.40 L391.12 377.00 L396.50 371.40 L401.88 377.00 L407.25 371.40 L412.62 377.00 L418.00 371.40 L423.38 377.00 L428.75 371.40 M289.00 382.35 L294.38 387.95 L299.75 382.35 L305.12 387.95 L310.50 382.35 L315.88 387.95 L321.25 382.35 L326.62 387.95 L332.00 382.35 L337.38 387.95 L342.75 382.35 L348.12 387.95 L353.50 382.35 L358.88 387.95 L364.25 382.35 L369.62 387.95 L375.00 382.35 L380.38 387.95 L385.75 382.35 L391.12 387.95 L396.50 382.35 L401.88 387.95 L407.25 382.35 L412.62 387.95 L418.00 382.35 L423.38 387.95 L428.75 382.35 M289.00 393.30 L294.38 398.90 L299.75 393.30 L305.12 398.90 L310.50 393.30 L315.88 398.90 L321.25 393.30 L326.62 398.90 L332.00 393.30 L337.38 398.90 L342.75 393.30 L348.12 398.90 L353.50 393.30 L358.88 398.90 L364.25 393.30 L369.62 398.90 L375.00 393.30 L380.38 398.90 L385.75 393.30 L391.12 398.90 L396.50 393.30 L401.88 398.90 L407.25 393.30 L412.62 398.90 L418.00 393.30 L423.38 398.90 L428.75 393.30 M289.00 404.25 L294.38 409.85 L299.75 404.25 L305.12 409.85 L310.50 404.25 L315.88 409.85 L321.25 404.25 L326.62 409.85 L332.00 404.25 L337.38 409.85 L342.75 404.25 L348.12 409.85 L353.50 404.25 L358.88 409.85 L364.25 404.25 L369.62 409.85 L375.00 404.25 L380.38 409.85 L385.75 404.25 L391.12 409.85 L396.50 404.25 L401.88 409.85 L407.25 404.25 L412.62 409.85 L418.00 404.25 L423.38 409.85 L428.75 404.25" fill="none" stroke="#151515" stroke-width="0.95" stroke-linejoin="miter"/></g>
<clipPath id="lbClip"><polygon points="307.7,257.4 318.7,257.4 305,409.8 293.9,409.8"/></clipPath>
<polygon points="307.7,257.4 318.7,257.4 305,409.8 293.9,409.8" fill="#fff"/>
<path d="M192.81 326.35 L310.16 219.95 M195.10 328.87 L312.44 222.47 M197.38 331.39 L314.73 224.99 M199.67 333.91 L317.01 227.50 M201.95 336.43 L319.30 230.02 M204.23 338.95 L321.58 232.54 M206.52 341.46 L323.86 235.06 M208.80 343.98 L326.15 237.58 M211.08 346.50 L328.43 240.10 M213.37 349.02 L330.72 242.62 M215.65 351.54 L333.00 245.14 M217.94 354.06 L335.28 247.65 M220.22 356.58 L337.57 250.17 M222.50 359.10 L339.85 252.69 M224.79 361.61 L342.13 255.21 M227.07 364.13 L344.42 257.73 M229.36 366.65 L346.70 260.25 M231.64 369.17 L348.99 262.77 M233.92 371.69 L351.27 265.29 M236.21 374.21 L353.55 267.80 M238.49 376.73 L355.84 270.32 M240.77 379.25 L358.12 272.84 M243.06 381.76 L360.41 275.36 M245.34 384.28 L362.69 277.88 M247.63 386.80 L364.97 280.40 M249.91 389.32 L367.26 282.92 M252.19 391.84 L369.54 285.44 M254.48 394.36 L371.83 287.95 M256.76 396.88 L374.11 290.47 M259.05 399.40 L376.39 292.99 M261.33 401.91 L378.68 295.51 M263.61 404.43 L380.96 298.03 M265.90 406.95 L383.24 300.55 M268.18 409.47 L385.53 303.07 M270.47 411.99 L387.81 305.59 M272.75 414.51 L390.10 308.10 M275.03 417.03 L392.38 310.62 M277.32 419.55 L394.66 313.14 M279.60 422.06 L396.95 315.66 M281.88 424.58 L399.23 318.18 M284.17 427.10 L401.52 320.70 M286.45 429.62 L403.80 323.22 M288.74 432.14 L406.08 325.74 M291.02 434.66 L408.37 328.25 M293.30 437.18 L410.65 330.77 M295.59 439.70 L412.93 333.29 M297.87 442.21 L415.22 335.81 M300.16 444.73 L417.50 338.33 M302.44 447.25 L419.79 340.85" stroke="#111" stroke-width="0.85" fill="none" clip-path="url(#lbClip)"/>
<path d="M289.58 446.08 L193.37 320.24 M292.28 444.02 L196.07 318.18 M294.98 441.95 L198.77 316.11 M297.68 439.89 L201.47 314.05 M300.39 437.82 L204.17 311.98 M303.09 435.76 L206.88 309.92 M305.79 433.69 L209.58 307.85 M308.49 431.63 L212.28 305.79 M311.19 429.56 L214.98 303.72 M313.89 427.50 L217.68 301.66 M316.59 425.43 L220.38 299.59 M319.29 423.37 L223.08 297.53 M321.99 421.30 L225.78 295.46 M324.69 419.24 L228.48 293.40 M327.40 417.17 L231.18 291.33 M330.10 415.11 L233.89 289.27 M332.80 413.04 L236.59 287.20 M335.50 410.98 L239.29 285.14 M338.20 408.91 L241.99 283.07 M340.90 406.84 L244.69 281.01 M343.60 404.78 L247.39 278.94 M346.30 402.71 L250.09 276.88 M349.00 400.65 L252.79 274.81 M351.70 398.58 L255.49 272.75 M354.41 396.52 L258.19 270.68 M357.11 394.45 L260.90 268.62 M359.81 392.39 L263.60 266.55 M362.51 390.32 L266.30 264.49 M365.21 388.26 L269.00 262.42 M367.91 386.19 L271.70 260.36 M370.61 384.13 L274.40 258.29 M373.31 382.06 L277.10 256.22 M376.01 380.00 L279.80 254.16 M378.71 377.93 L282.50 252.09 M381.42 375.87 L285.20 250.03 M384.12 373.80 L287.91 247.96 M386.82 371.74 L290.61 245.90 M389.52 369.67 L293.31 243.83 M392.22 367.61 L296.01 241.77 M394.92 365.54 L298.71 239.70 M397.62 363.48 L301.41 237.64 M400.32 361.41 L304.11 235.57 M403.02 359.35 L306.81 233.51 M405.72 357.28 L309.51 231.44 M408.43 355.22 L312.21 229.38 M411.13 353.15 L314.92 227.31 M413.83 351.09 L317.62 225.25 M416.53 349.02 L320.32 223.18 M419.23 346.96 L323.02 221.12" stroke="#111" stroke-width="0.85" fill="none" clip-path="url(#lbClip)"/>
<polygon points="307.7,257.4 318.7,257.4 305,409.8 293.9,409.8" fill="none" stroke="#111" stroke-width="1.7"/>
<clipPath id="rbClip"><polygon points="414.2,257.4 421.1,257.4 406.6,409.8 400,409.8"/></clipPath>
<polygon points="414.2,257.4 421.1,257.4 406.6,409.8 400,409.8" fill="#fff"/>
<path d="M297.81 326.76 L414.74 220.73 M300.09 329.28 L417.03 223.24 M302.37 331.80 L419.31 225.76 M304.66 334.32 L421.60 228.28 M306.94 336.83 L423.88 230.80 M309.22 339.35 L426.16 233.32 M311.51 341.87 L428.45 235.84 M313.79 344.39 L430.73 238.36 M316.08 346.91 L433.02 240.88 M318.36 349.43 L435.30 243.39 M320.64 351.95 L437.58 245.91 M322.93 354.47 L439.87 248.43 M325.21 356.98 L442.15 250.95 M327.50 359.50 L444.43 253.47 M329.78 362.02 L446.72 255.99 M332.06 364.54 L449.00 258.51 M334.35 367.06 L451.29 261.03 M336.63 369.58 L453.57 263.54 M338.91 372.10 L455.85 266.06 M341.20 374.62 L458.14 268.58 M343.48 377.13 L460.42 271.10 M345.77 379.65 L462.71 273.62 M348.05 382.17 L464.99 276.14 M350.33 384.69 L467.27 278.66 M352.62 387.21 L469.56 281.18 M354.90 389.73 L471.84 283.69 M357.19 392.25 L474.12 286.21 M359.47 394.77 L476.41 288.73 M361.75 397.28 L478.69 291.25 M364.04 399.80 L480.98 293.77 M366.32 402.32 L483.26 296.29 M368.60 404.84 L485.54 298.81 M370.89 407.36 L487.83 301.33 M373.17 409.88 L490.11 303.84 M375.46 412.40 L492.40 306.36 M377.74 414.92 L494.68 308.88 M380.02 417.43 L496.96 311.40 M382.31 419.95 L499.25 313.92 M384.59 422.47 L501.53 316.44 M386.88 424.99 L503.81 318.96 M389.16 427.51 L506.10 321.48 M391.44 430.03 L508.38 323.99 M393.73 432.55 L510.67 326.51 M396.01 435.07 L512.95 329.03 M398.29 437.58 L515.23 331.55 M400.58 440.10 L517.52 334.07 M402.86 442.62 L519.80 336.59 M405.15 445.14 L522.09 339.11 M407.43 447.66 L524.37 341.63" stroke="#111" stroke-width="0.85" fill="none" clip-path="url(#rbClip)"/>
<path d="M394.30 445.38 L298.42 319.98 M397.00 443.31 L301.12 317.91 M399.70 441.25 L303.83 315.85 M402.40 439.18 L306.53 313.78 M405.10 437.12 L309.23 311.72 M407.80 435.05 L311.93 309.65 M410.51 432.99 L314.63 307.58 M413.21 430.92 L317.33 305.52 M415.91 428.86 L320.03 303.45 M418.61 426.79 L322.73 301.39 M421.31 424.73 L325.43 299.32 M424.01 422.66 L328.13 297.26 M426.71 420.60 L330.84 295.19 M429.41 418.53 L333.54 293.13 M432.11 416.47 L336.24 291.06 M434.81 414.40 L338.94 289.00 M437.52 412.34 L341.64 286.93 M440.22 410.27 L344.34 284.87 M442.92 408.21 L347.04 282.80 M445.62 406.14 L349.74 280.74 M448.32 404.08 L352.44 278.67 M451.02 402.01 L355.14 276.61 M453.72 399.94 L357.85 274.54 M456.42 397.88 L360.55 272.48 M459.12 395.81 L363.25 270.41 M461.82 393.75 L365.95 268.35 M464.53 391.68 L368.65 266.28 M467.23 389.62 L371.35 264.22 M469.93 387.55 L374.05 262.15 M472.63 385.49 L376.75 260.09 M475.33 383.42 L379.45 258.02 M478.03 381.36 L382.15 255.96 M480.73 379.29 L384.86 253.89 M483.43 377.23 L387.56 251.83 M486.13 375.16 L390.26 249.76 M488.83 373.10 L392.96 247.70 M491.54 371.03 L395.66 245.63 M494.24 368.97 L398.36 243.57 M496.94 366.90 L401.06 241.50 M499.64 364.84 L403.76 239.44 M502.34 362.77 L406.46 237.37 M505.04 360.71 L409.16 235.31 M507.74 358.64 L411.87 233.24 M510.44 356.58 L414.57 231.18 M513.14 354.51 L417.27 229.11 M515.85 352.45 L419.97 227.05 M518.55 350.38 L422.67 224.98 M521.25 348.32 L425.37 222.92 M523.95 346.25 L428.07 220.85" stroke="#111" stroke-width="0.85" fill="none" clip-path="url(#rbClip)"/>
<polygon points="414.2,257.4 421.1,257.4 406.6,409.8 400,409.8" fill="none" stroke="#111" stroke-width="1.6"/>
<path d="M294 410 H406.6" stroke="#0a3a5a" stroke-width="0.7" fill="none"/>
<path d="M151.6 257.2 H435.6" stroke="#1a1a1a" stroke-width="1" fill="none"/>
<path d="M340.6 296.8 C337 301 341 305 345 309 C351 315 351 320 345 326 C340 331 338 336 342.5 343" fill="none" stroke="#111" stroke-width="2.4" stroke-linecap="round"/>
<polygon points="351.5,354.2 337.2,347.6 343,346 346.2,340.6" fill="#111"/>
<path d="M374.3 296.8 C370.7 301 374.7 305 378.7 309 C384.7 315 384.7 320 378.7 326 C373.7 331 371.7 336 376.2 343" fill="none" stroke="#111" stroke-width="2.4" stroke-linecap="round"/>
<polygon points="385.2,354.2 370.9,347.6 376.7,346 379.9,340.6" fill="#111"/>
<path d="M416.65 310.50 C417.10 310.07 418.37 308.62 419.33 307.94 C420.29 307.26 421.45 306.73 422.41 306.41 C423.37 306.09 424.34 306.33 425.09 306.01 C425.85 305.69 426.49 305.18 426.94 304.48 C427.38 303.78 427.43 302.71 427.76 301.82 C428.08 300.93 428.40 299.91 428.90 299.16 C429.39 298.41 430.11 297.82 430.74 297.33 C431.38 296.84 432.37 296.39 432.70 296.20" fill="none" stroke="#222" stroke-width="0.9"/>
<path d="M415.38 323.90 C415.83 323.47 417.13 322.01 418.10 321.32 C419.08 320.64 420.26 320.11 421.24 319.78 C422.21 319.46 423.20 319.70 423.96 319.38 C424.73 319.05 425.39 318.54 425.84 317.84 C426.29 317.13 426.34 316.05 426.67 315.16 C427.00 314.27 427.33 313.23 427.83 312.48 C428.34 311.73 429.06 311.13 429.71 310.64 C430.35 310.14 431.37 309.69 431.70 309.50" fill="none" stroke="#222" stroke-width="0.9"/>
<path d="M413.91 339.30 C414.35 338.87 415.60 337.41 416.55 336.72 C417.49 336.04 418.63 335.51 419.58 335.18 C420.52 334.86 421.47 335.10 422.22 334.78 C422.96 334.45 423.60 333.94 424.03 333.24 C424.47 332.53 424.52 331.45 424.84 330.56 C425.16 329.67 425.47 328.63 425.96 327.88 C426.45 327.13 427.15 326.53 427.77 326.04 C428.40 325.54 429.38 325.09 429.70 324.90" fill="none" stroke="#222" stroke-width="0.9"/>
<path d="M412.74 351.60 C413.18 351.17 414.44 349.71 415.39 349.02 C416.34 348.34 417.49 347.81 418.43 347.48 C419.38 347.16 420.34 347.40 421.08 347.08 C421.83 346.75 422.47 346.24 422.91 345.54 C423.35 344.83 423.39 343.75 423.72 342.86 C424.04 341.97 424.35 340.93 424.84 340.18 C425.33 339.43 426.04 338.83 426.67 338.34 C427.29 337.84 428.28 337.39 428.60 337.20" fill="none" stroke="#222" stroke-width="0.9"/>
<path d="M411.28 367.00 C411.70 366.57 412.92 365.11 413.84 364.42 C414.75 363.74 415.86 363.21 416.78 362.88 C417.69 362.56 418.62 362.80 419.34 362.48 C420.06 362.15 420.68 361.64 421.10 360.94 C421.52 360.23 421.57 359.15 421.88 358.26 C422.19 357.37 422.49 356.33 422.97 355.58 C423.44 354.83 424.13 354.23 424.73 353.74 C425.34 353.24 426.29 352.79 426.60 352.60" fill="none" stroke="#222" stroke-width="0.9"/>
<path d="M409.91 381.40 C410.34 380.97 411.59 379.51 412.53 378.82 C413.47 378.14 414.60 377.61 415.54 377.28 C416.48 376.96 417.42 377.20 418.16 376.88 C418.90 376.55 419.53 376.04 419.97 375.34 C420.40 374.63 420.45 373.55 420.77 372.66 C421.09 371.77 421.39 370.73 421.88 369.98 C422.37 369.23 423.07 368.63 423.69 368.14 C424.31 367.64 425.28 367.19 425.60 367.00" fill="none" stroke="#222" stroke-width="0.9"/>
<path transform="translate(304.9 225.3)" d="M5.8 0 C4.6 2.4 0 3.6 0 6.6 C0 9.4 2.4 10.9 4.6 10.9 C7 10.9 9.2 9.1 9.1 7 C9 5.5 7.6 4.7 6.7 3.9 C6.1 3.2 5.9 1.6 5.8 0 Z" fill="#d81890"/>
<path transform="translate(330 245.9)" d="M5.8 0 C4.6 2.4 0 3.6 0 6.6 C0 9.4 2.4 10.9 4.6 10.9 C7 10.9 9.2 9.1 9.1 7 C9 5.5 7.6 4.7 6.7 3.9 C6.1 3.2 5.9 1.6 5.8 0 Z" fill="#d81890"/>
<path transform="translate(367.1 237.1)" d="M5.8 0 C4.6 2.4 0 3.6 0 6.6 C0 9.4 2.4 10.9 4.6 10.9 C7 10.9 9.2 9.1 9.1 7 C9 5.5 7.6 4.7 6.7 3.9 C6.1 3.2 5.9 1.6 5.8 0 Z" fill="#d81890"/>
<path transform="translate(394.1 245.2)" d="M5.8 0 C4.6 2.4 0 3.6 0 6.6 C0 9.4 2.4 10.9 4.6 10.9 C7 10.9 9.2 9.1 9.1 7 C9 5.5 7.6 4.7 6.7 3.9 C6.1 3.2 5.9 1.6 5.8 0 Z" fill="#d81890"/>
<path transform="translate(249.8 271.2) scale(1.0)" d="M0 0 L18.7 8 L13.3 11.5 C16 16.5 24 19.6 33.4 19.8 L33.4 27.6 C22 27.4 13 23 8.9 15.4 L6.7 20.8 Z" fill="#f0a41c"/>
<path transform="translate(250.4 311.8) scale(1.0)" d="M0 0 L18.7 8 L13.3 11.5 C16 16.5 24 19.6 33.4 19.8 L33.4 27.6 C22 27.4 13 23 8.9 15.4 L6.7 20.8 Z" fill="#f0a41c"/>
<path transform="translate(250.4 352) scale(1.0)" d="M0 0 L18.7 8 L13.3 11.5 C16 16.5 24 19.6 33.4 19.8 L33.4 27.6 C22 27.4 13 23 8.9 15.4 L6.7 20.8 Z" fill="#f0a41c"/>
<path transform="translate(242.9 183.5)" d="M0 0 L11.9 5.1 L9.8 6.9 C12 8 16 8.6 20.3 8.6 L20.3 13.7 C15 13.9 10.5 13 7.7 10.4 L6.2 13.7 Z" fill="#f0a41c"/>
<path transform="translate(242.9 208.9)" d="M0 0 L11.9 5.1 L9.8 6.9 C12 8 16 8.6 20.3 8.6 L20.3 13.7 C15 13.9 10.5 13 7.7 10.4 L6.2 13.7 Z" fill="#f0a41c"/>
<path d="M436 89.8 H448.8 Q456.8 89.8 456.8 97.8 V115.4 H441.4 V104.6 H436 Z" fill="#2f3190"/>
<rect x="443.3" y="115" width="11.8" height="301.6" fill="#2f3190"/>
<rect x="436.4" y="417.2" width="23.8" height="4.9" fill="#a9a9a9" stroke="#444" stroke-width="0.8"/>
<path d="M442.8 422.2 L446.4 432 H451 L454 422.2" fill="#fff" stroke="#161616" stroke-width="0.9"/>
<path d="M448.5 422.4 V433" stroke="#161616" stroke-width="0.8"/>
<rect x="436.6" y="429" width="3.4" height="25" rx="1" fill="#fff" stroke="#161616" stroke-width="0.9"/>
<rect x="440" y="431" width="5.4" height="21" fill="#f2f2f2" stroke="#161616" stroke-width="0.8"/>
<path d="M440 436.4 H445.4 M440 441.6 H445.4 M440 446.8 H445.4" stroke="#161616" stroke-width="0.7"/>
<path d="M445.4 433.4 Q445.4 431.2 447.6 431.2 H452 Q457.6 432 457.6 444.8 Q457.6 457.6 452 458.4 H447.6 Q445.4 458.4 445.4 456.2 Z" fill="#fff" stroke="#161616" stroke-width="1"/>
<path d="M452.6 431.6 Q455.4 444.8 452.6 458" stroke="#161616" stroke-width="0.9" fill="none"/>
<rect x="459.4" y="426.6" width="34" height="29.2" rx="4" fill="#fff" stroke="#161616" stroke-width="1.1"/>
<path d="M464.6 427 V455.4" stroke="#161616" stroke-width="0.9"/>
<rect x="464.8" y="427.2" width="26" height="7.6" fill="#141414"/>
<rect x="465.4" y="428.9" width="25" height="0.5" fill="#8a8a8a"/>
<rect x="465.4" y="430.9" width="25" height="0.5" fill="#8a8a8a"/>
<rect x="465.4" y="432.9" width="25" height="0.5" fill="#8a8a8a"/>
<path d="M490.8 427.2 H496.4 Q501 428.2 501 441.2 Q501 454.4 496.4 455.4 H490.8 Z" fill="#fff" stroke="#161616" stroke-width="1"/>
<path d="M495.4 427.8 V455" stroke="#555" stroke-width="0.7"/>
<rect x="465.6" y="435.6" width="6" height="10.4" fill="#fff" stroke="#161616" stroke-width="1.2"/>
<rect x="472.9" y="435.6" width="8.8" height="10.4" fill="#fff" stroke="#161616" stroke-width="1.2"/>
<rect x="483.4" y="435.6" width="6.2" height="10.4" fill="#fff" stroke="#161616" stroke-width="1.2"/>
<path d="M460.4 447.2 H491.6" stroke="#161616" stroke-width="1.3" fill="none"/>
<path d="M463 451.6 H490 M477.2 446.4 V455.8 M469.4 451.6 V455.8 M485 451.6 V455.8" stroke="#161616" stroke-width="0.9" fill="none"/>
<circle cx="477.2" cy="423.4" r="1.9" fill="#fff" stroke="#161616" stroke-width="0.9"/>
<path d="M476 422.2 L478.4 424.6 M478.4 422.2 L476 424.6 M477.2 425.3 V427" stroke="#161616" stroke-width="0.6"/>
<path d="M409 97.2 L446.8 58.9" fill="none" stroke="#3f8f7a" stroke-width="0.8"/>
<path d="M446.8 58.9 H467.7" fill="none" stroke="#93ccb6" stroke-width="1.2"/>
<polygon points="407.8,98.4 412.4,96.2 410.2,94" fill="#3f8f7a"/>
<path d="M377.4 124.9 H467.4" fill="none" stroke="#93ccb6" stroke-width="1.1"/>
<path d="M401.6 183 H467.7" fill="none" stroke="#93ccb6" stroke-width="1.1"/>
<polygon points="400.6,183 404.4,181.6 404.4,184.4" fill="#3f8f7a"/>
<path d="M377 228.6 H467.7" fill="none" stroke="#93ccb6" stroke-width="1.1"/>
<polygon points="376.4,228.6 380.2,227.2 380.2,230" fill="#3f8f7a"/>
<path d="M372.5 392.8 H468.6" fill="none" stroke="#93ccb6" stroke-width="1.1"/>
<polygon points="371.5,392.8 375.3,391.4 375.3,394.2" fill="#3f8f7a"/>
<path d="M217 245 H254.6" fill="none" stroke="#93ccb6" stroke-width="1.1"/>
<path d="M254.6 245 L282 219" fill="none" stroke="#3f8f7a" stroke-width="0.8"/>
<path d="M162 380.4 H201.2" fill="none" stroke="#3f8f7a" stroke-width="1.0"/>
<path d="M201.2 380.4 L215 398" fill="none" stroke="#3f8f7a" stroke-width="0.8"/>
<polygon points="215.6,398.8 212,396.4 214.4,394.6" fill="#3f8f7a"/>
<text x="471.6" y="61.3" font-family="'Liberation Sans','Noto Sans CJK SC',sans-serif" font-size="10.3" fill="#2a2a2a" >喷淋水系统</text>
<text x="471.6" y="126.3" font-family="'Liberation Sans','Noto Sans CJK SC',sans-serif" font-size="10.2" fill="#2a2a2a" >液态冷剂出口</text>
<text x="472.2" y="186.2" font-family="'Liberation Sans','Noto Sans CJK SC',sans-serif" font-size="10.3" fill="#2a2a2a" >盘管</text>
<text x="472.2" y="231.4" font-family="'Liberation Sans','Noto Sans CJK SC',sans-serif" font-size="10.2" fill="#2a2a2a" >液态冷剂进口</text>
<text x="220" y="242.6" font-family="'Liberation Sans','Noto Sans CJK SC',sans-serif" font-size="10.4" fill="#2a2a2a" >挡水板</text>
<text x="162" y="379.2" font-family="'Liberation Sans','Noto Sans CJK SC',sans-serif" font-size="9.8" fill="#2a2a2a" >内装走道</text>
<text x="473.6" y="397.4" font-family="'Liberation Sans','Noto Sans CJK SC',sans-serif" fill="#2a2a2a"><tspan font-size="12">PVC</tspan><tspan font-size="9.8">热交换层</tspan></text>
<text x="457.2" y="475.2" font-family="'Liberation Sans','Noto Sans CJK SC',sans-serif" font-size="11.7" fill="#2a2a2a" >循环水泵</text>
<text x="514.8" y="326.6" font-family="'Liberation Sans','Noto Sans CJK SC',sans-serif" font-size="11.4" fill="#2a2a2a" >新\P风\P进\P口</text>
<polygon points="467.1,288.7 488,280.2 488,297.2" fill="#1d9a1d"/>
<polygon points="481.4,288.7 500.2,279.05 500.2,298.34999999999997" fill="#1d9a1d"/>
<polygon points="467.1,329.9 488,321.4 488,338.4" fill="#1d9a1d"/>
<polygon points="481.4,329.9 500.2,320.25 500.2,339.54999999999995" fill="#1d9a1d"/>
<polygon points="467.1,368.8 488,360.3 488,377.3" fill="#1d9a1d"/>
<polygon points="481.4,368.8 500.2,359.15000000000003 500.2,378.45" fill="#1d9a1d"/></svg>
</body></html>
